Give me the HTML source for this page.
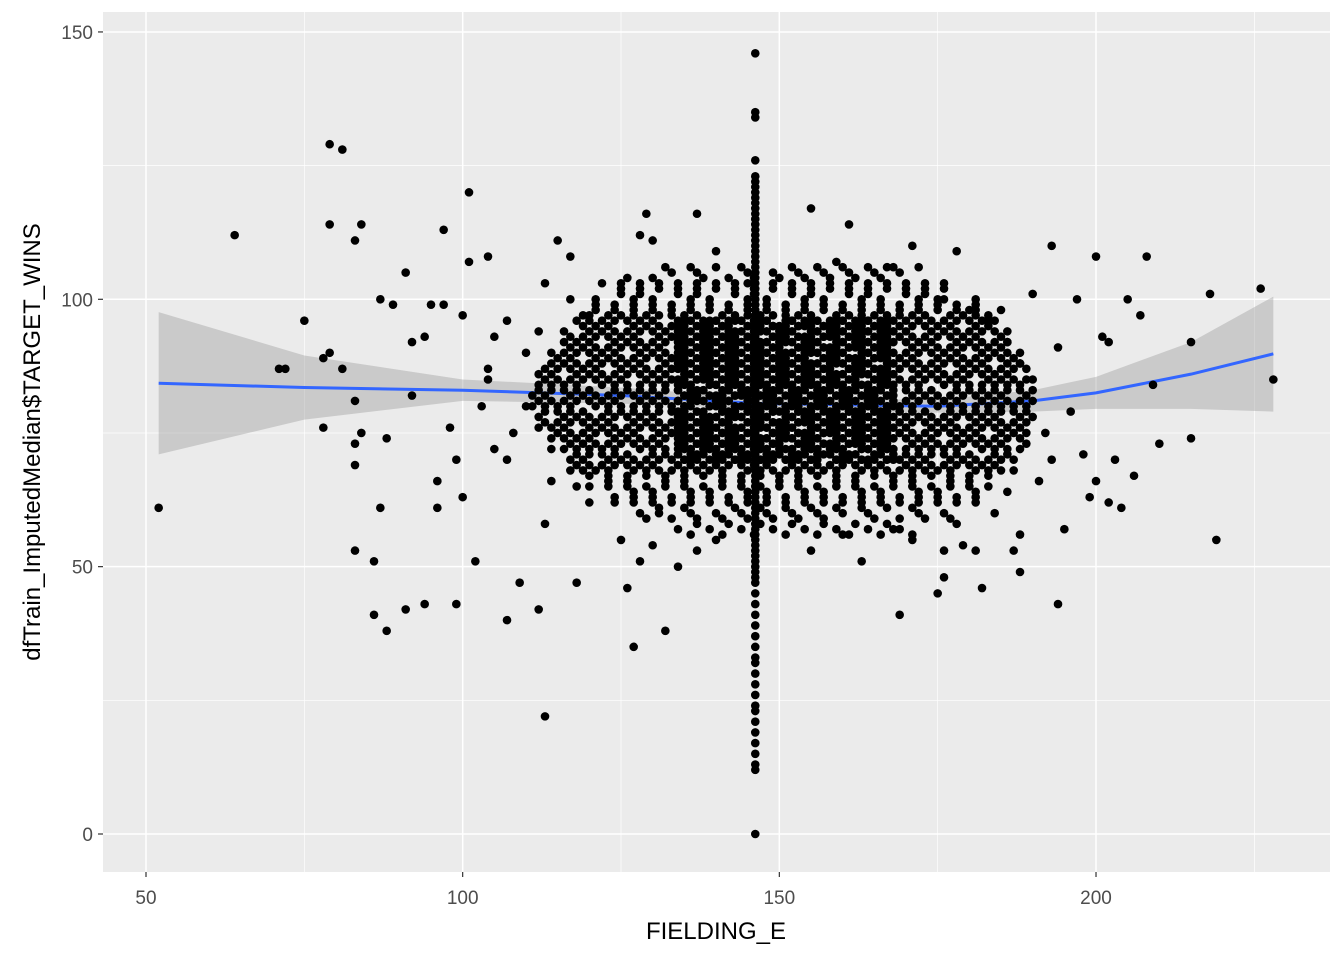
<!DOCTYPE html>
<html><head><meta charset="utf-8"><style>
body{margin:0;background:#fff;}
svg text{font-family:"Liberation Sans",sans-serif;}
</style></head><body>
<svg id="chart" width="1344" height="960" xmlns="http://www.w3.org/2000/svg">
<rect x="103" y="12" width="1227" height="860" fill="#EBEBEB"/>
<g id="grid"></g><g id="smooth"></g><g id="pts"></g><g id="axes"></g>
<text x="716" y="939" font-size="24" text-anchor="middle" fill="#000">FIELDING_E</text>
<text transform="translate(40,442) rotate(-90)" font-size="24" text-anchor="middle" fill="#000">dfTrain_ImputedMedian$TARGET_WINS</text>
</svg>
<script>
const xTicks=[50,100,150,200];
const xMinor=[75,125,175,225];
const yTicks=[0,50,100,150];
const yMinor=[25,75,125];
const smoothX=[52,75,100,125,147,175,190,200,215,228];
const smoothY=[84.3,83.5,83,82,80.5,80,81,82.5,86,89.8];
const bandLo=[71,77.5,81,80.5,79.5,78.8,79,79.5,79.5,79];
const bandHi=[97.6,89.5,85,83.5,81.5,81.2,83,85.5,92,100.5];
const medianX=146.2;
const medianY=[0,12,13,15,17,19,21,23,24,26,28,30,32,33,35,37,39,41,43,45,47,48,49,50,51,52,53,54,55,56,57,58,59,60,61,62,63,64,65,66,67,68,69,70,71,72,73,74,75,76,77,78,79,80,81,82,83,84,85,86,87,88,89,90,91,92,93,94,95,96,97,98,99,100,101,102,103,104,105,106,107,108,109,110,111,112,113,114,115,116,117,118,119,120,121,122,123,126,134,135,146];
const bandYlo=[104,101,98,95,92,88,84,80,76,72,68,65,62,59,56];
const bandYhi=[106,103,100,97,94,91,87,83,79,75,71,67,64,61,58];
const bandXmin=[130,125,121,118,116,114,112,111,112,114,117,120,124,128,133];
const bandXmax=[172,178,182,184,186,188,189,190,190,189,187,185,182,178,172];
const bandStep=[4,3,3,2,2,2,2,2,2,2,2,3,3,4,5];
const coreYlo=70, coreYhi=96, coreXmin=134, coreXmax=168;
const outX=[52,64,71,72,75,78,78,79,79,79,81,81,83,84,83,83,83,84,83,86,86,87,87,88,88,89,91,91,92,92,94,94,95,96,96,97,97,98,99,99,100,100,101,101,102,104,104,107,109,112,113,113,118,126,127,132,134,137,155,161,169,175,176,182,188,193,194,200,203,204,206,207,208,209,210,215,215,218,219,226,228,202,202,199,195,196,200,188,187,205,201,197,192,190,185,190,129,130,128,140,145,159,167,171,178,115,117,110,112,107,105,108,110,104,103,105,107,114,120,122,118,125,130,131,128,137,140,155,160,163,168,171,176,179,181,184,186,178,193,191,198,180,176,183,186,188,194,113,117,120,122,126];
const outY=[61,112,87,87,96,76,89,90,129,114,128,87,111,114,81,73,69,75,53,51,41,61,100,38,74,99,105,42,82,92,43,93,99,61,66,113,99,76,43,70,63,97,120,107,51,108,85,40,47,42,22,58,47,46,35,38,50,116,117,114,41,45,48,46,49,110,43,108,70,61,67,97,108,84,73,92,74,101,55,102,85,62,92,63,57,79,66,56,53,100,93,100,75,85,98,101,116,111,112,109,103,107,106,110,109,111,108,90,94,96,93,75,80,87,80,72,70,66,62,69,65,55,54,60,51,53,55,53,56,51,57,55,53,54,53,60,64,58,70,66,71,98,100,96,92,88,91,103,100,97,103,104];

const X=v=>146+(v-50)*6.3334, Y=v=>834-v*5.347;
const NS="http://www.w3.org/2000/svg";
function mk(tag,attrs,parent){const e=document.createElementNS(NS,tag);for(const k in attrs)e.setAttribute(k,attrs[k]);parent.appendChild(e);return e;}
const grid=document.getElementById('grid'),axes=document.getElementById('axes');
xMinor.forEach(v=>{const l=mk('line',{x1:X(v),x2:X(v),y1:12,y2:872,stroke:'#fff','stroke-width':0.7},grid);

});
yMinor.forEach(v=>{const l=mk('line',{x1:103,x2:1330,y1:Y(v),y2:Y(v),stroke:'#fff','stroke-width':0.7},grid);

});
xTicks.forEach(v=>{const l=mk('line',{x1:X(v),x2:X(v),y1:12,y2:872,stroke:'#fff','stroke-width':1.5},grid);


const t=mk('line',{x1:X(v),x2:X(v),y1:872,y2:877,stroke:'#333','stroke-width':1.2},axes);


const tx=mk('text',{x:X(v),y:904,'font-size':19,'text-anchor':'middle',fill:'#4D4D4D'},axes);tx.textContent=v;

});
yTicks.forEach(v=>{const l=mk('line',{x1:103,x2:1330,y1:Y(v),y2:Y(v),stroke:'#fff','stroke-width':1.5},grid);


const t=mk('line',{x1:98,x2:103,y1:Y(v),y2:Y(v),stroke:'#333','stroke-width':1.2},axes);


const tx=mk('text',{x:93,y:Y(v)+7,'font-size':19,'text-anchor':'end',fill:'#4D4D4D'},axes);tx.textContent=v;

});
const sm=document.getElementById('smooth');
let d='M'+smoothX.map((x,i)=>X(x)+','+Y(bandHi[i])).join('L');
for(let i=smoothX.length-1;i>=0;i--)d+='L'+X(smoothX[i])+','+Y(bandLo[i]);
const rib=mk('path',{d:d+'Z',fill:'#999',opacity:0.4},sm);


const ln=mk('path',{d:'M'+smoothX.map((x,i)=>X(x)+','+Y(smoothY[i])).join('L'),fill:'none',stroke:'#3366FF','stroke-width':3},sm);


const pts=document.getElementById('pts');
function pt(x,y){const c=mk('circle',{cx:X(x),cy:Y(y),r:4.3,fill:'#000'},pts);

}
bandYlo.forEach((lo,b)=>{for(let y=lo;y<=bandYhi[b];y++){const off=(y*3)%bandStep[b];for(let x=bandXmin[b]+off;x<=bandXmax[b];x+=bandStep[b]){if((x*7+y*5)%9===0)continue;pt(x,y);}}});
for(let y=coreYlo;y<=coreYhi;y++)for(let x=coreXmin;x<=coreXmax;x++){if((x*3+y*2)%4>=2)continue;pt(x,y);}
medianY.forEach(y=>pt(medianX,y));
outX.forEach((x,i)=>pt(x,outY[i]));
</script>
</body></html>
